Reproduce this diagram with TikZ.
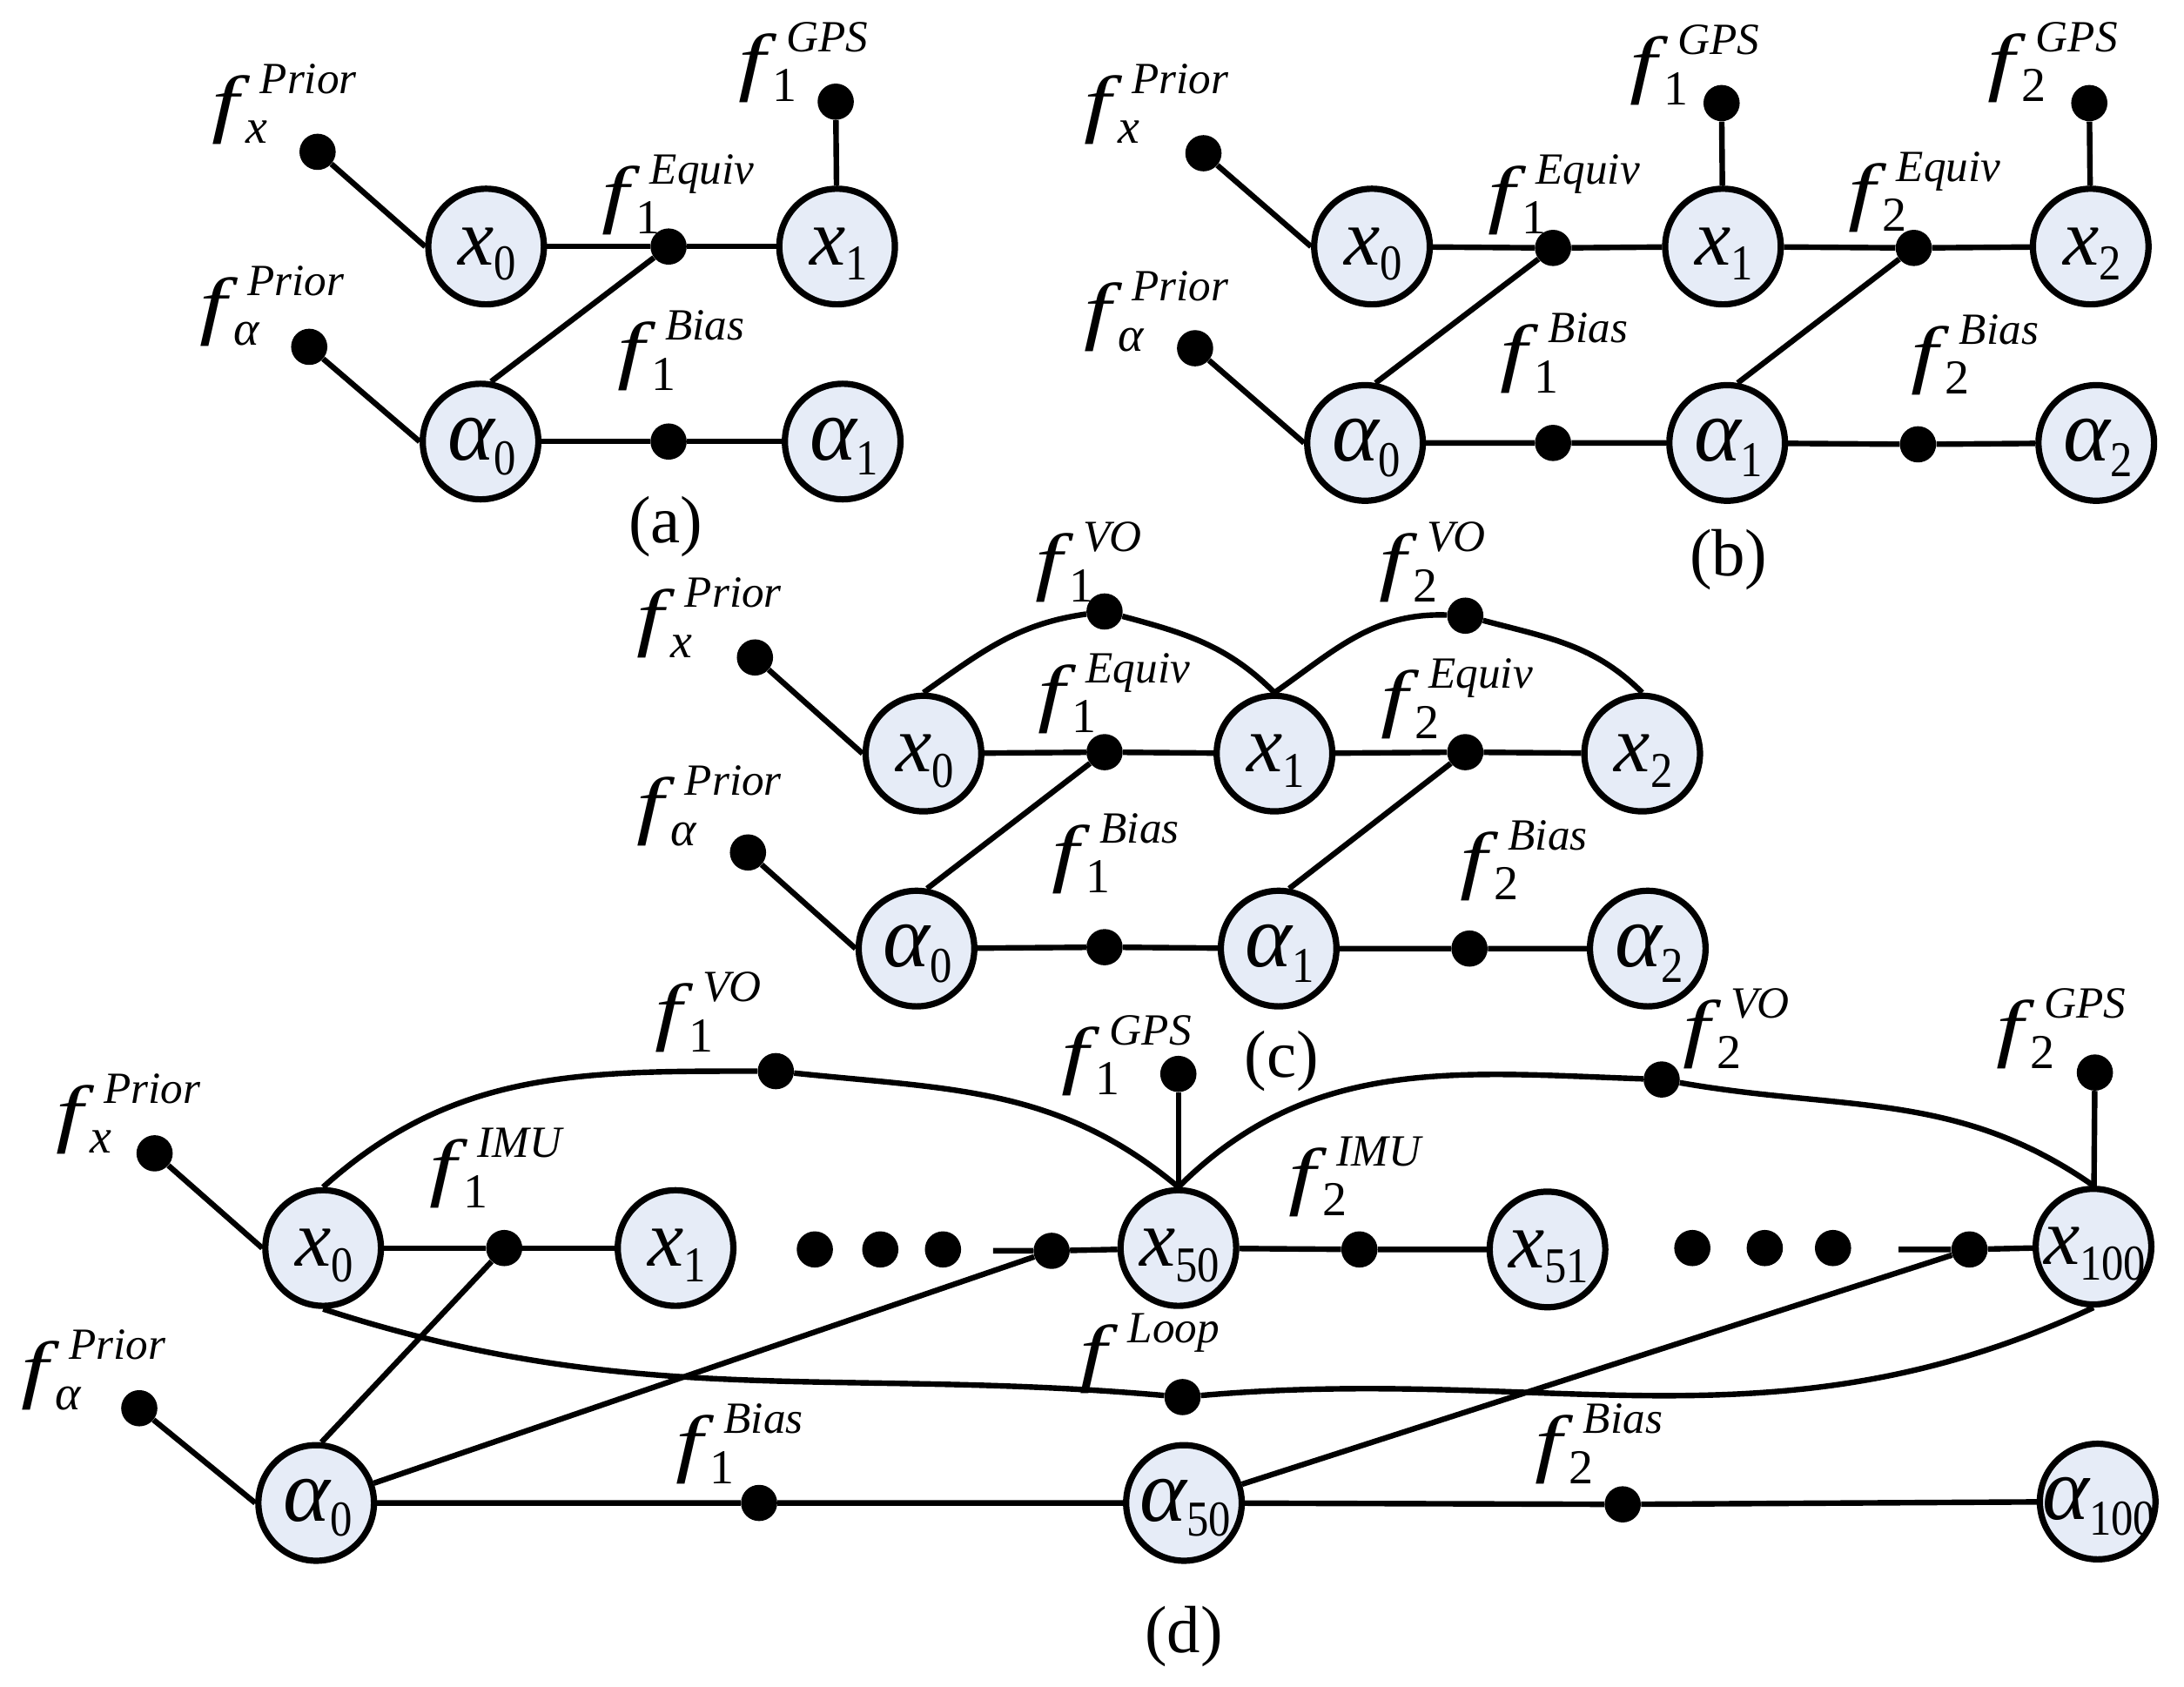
\documentclass[tikz,border=0pt]{standalone}
\usepackage{graphicx}
\usepackage{fontspec}
\setmainfont{Liberation Serif}
\usetikzlibrary{positioning}
\definecolor{varblue}{HTML}{E6ECF7}
\newcommand{\ffont}{\fontsize{54}{54}\selectfont\itshape}
\newcommand{\supfont}{\fontsize{32}{32}\selectfont\itshape}
\newcommand{\subfont}{\fontsize{35}{35}\selectfont}
\newcommand{\flab}[2]{\scalebox{1.3}[1]{\ffont f}\rlap{\kern15pt\raisebox{25pt}{\supfont #1}}\kern5pt\raisebox{-11pt}{\subfont #2}}
\newcommand{\vsub}[1]{\raisebox{-11pt}{\scalebox{0.88}[1]{\fontsize{36}{36}\selectfont #1}}}
\newcommand{\vlab}[2]{\raisebox{-13pt}[0pt][0pt]{\makebox[0pt]{\kern2pt{\fontsize{58}{58}\selectfont\itshape #1}\vsub{#2}}}}
\newcommand{\alab}[2]{\raisebox{-13pt}[0pt][0pt]{\makebox[0pt]{\kern2pt{\fontsize{64}{64}\selectfont\itshape #1}\vsub{#2}}}}
\newcommand{\fx}{\textit{x}}
\newcommand{\fa}{\textit{α}}
\begin{document}
\begin{tikzpicture}[x=1pt, y=-1pt,
                    varnode/.style={circle, draw, line width=4.5pt, fill=varblue, minimum size=83pt, inner sep=0pt},
                    factor/.style={circle, fill=black, minimum size=26pt, inner sep=0pt},
                    flabel/.style={anchor=base west, inner sep=0pt},
                    caption/.style={font=\fontsize{48}{48}\selectfont},
                    link/.style={line width=4pt}]
\useasboundingbox (0,0) rectangle (1568,1211);

% (a)
\node[varnode] (ax0) at (349,177) {\vlab{x}{0}};
\node[varnode] (ax1) at (601,177) {\vlab{x}{1}};
\node[varnode] (aa0) at (345,317) {\alab{α}{0}};
\node[varnode] (aa1) at (605,317) {\alab{α}{1}};
\node[factor] (apx) at (228,109) {};
\node[factor] (apa) at (222,249) {};
\node[factor] (agps) at (600,73) {};
\node[factor] (aeq) at (480,177) {};
\node[factor] (abi) at (480,317) {};
\node[flabel] (alpx) at (152,92) {\flab{Prior}{\fx}};
\node[flabel] (alpa) at (143,237) {\flab{Prior}{\fa}};
\node[flabel] (algps) at (530,62) {\flab{GPS}{1}};
\node[flabel] (aleq) at (432,157) {\flab{Equiv}{1}};
\node[flabel] (albi) at (443,269) {\flab{Bias}{1}};
\node[caption] (acap) at (478,378) {(a)};
\draw[link] (apx) -- (ax0.west);
\draw[link] (apa) -- (aa0.west);
\draw[link] (agps) -- (ax1);
\draw[link] (ax0) -- (aeq) -- (ax1);
\draw[link] (aa0.80) -- (aeq);
\draw[link] (aa0) -- (abi) -- (aa1);

% (b)
\node[varnode] (bx0) at (985,177) {\vlab{x}{0}};
\node[varnode] (bx1) at (1237,177) {\vlab{x}{1}};
\node[varnode] (bx2) at (1501,177) {\vlab{x}{2}};
\node[varnode] (ba0) at (980,318) {\alab{α}{0}};
\node[varnode] (ba1) at (1240,318) {\alab{α}{1}};
\node[varnode] (ba2) at (1505,318) {\alab{α}{2}};
\node[factor] (bpx) at (864,110) {};
\node[factor] (bpa) at (858,250) {};
\node[factor] (bgps1) at (1236,74) {};
\node[factor] (bgps2) at (1500,74) {};
\node[factor] (beq1) at (1115,178) {};
\node[factor] (beq2) at (1374,178) {};
\node[factor] (bbi1) at (1115,318) {};
\node[factor] (bbi2) at (1377,319) {};
\node[flabel] (blpx) at (778,92) {\flab{Prior}{\fx}};
\node[flabel] (blpa) at (778,241) {\flab{Prior}{\fa}};
\node[flabel] (blgps1) at (1170,64) {\flab{GPS}{1}};
\node[flabel] (blgps2) at (1427,62) {\flab{GPS}{2}};
\node[flabel] (bleq1) at (1068,157) {\flab{Equiv}{1}};
\node[flabel] (bleq2) at (1327,155) {\flab{Equiv}{2}};
\node[flabel] (blbi1) at (1077,271) {\flab{Bias}{1}};
\node[flabel] (blbi2) at (1372,272) {\flab{Bias}{2}};
\node[caption] (bcap) at (1241,402) {(b)};
\draw[link] (bpx) -- (bx0.west);
\draw[link] (bpa) -- (ba0.west);
\draw[link] (bgps1) -- (bx1);
\draw[link] (bgps2) -- (bx2);
\draw[link] (bx0) -- (beq1) -- (bx1) -- (beq2) -- (bx2);
\draw[link] (ba0.80) -- (beq1);
\draw[link] (ba1.80) -- (beq2);
\draw[link] (ba0) -- (bbi1) -- (ba1) -- (bbi2) -- (ba2);

% (c)
\node[varnode] (cx0) at (663,541) {\vlab{x}{0}};
\node[varnode] (cx1) at (915,541) {\vlab{x}{1}};
\node[varnode] (cx2) at (1179,541) {\vlab{x}{2}};
\node[varnode] (ca0) at (658,681) {\alab{α}{0}};
\node[varnode] (ca1) at (918,681) {\alab{α}{1}};
\node[varnode] (ca2) at (1183,681) {\alab{α}{2}};
\node[factor] (cpx) at (542,472) {};
\node[factor] (cpa) at (537,612) {};
\node[factor] (cvo1) at (793,439) {};
\node[factor] (cvo2) at (1052,442) {};
\node[factor] (ceq1) at (793,540) {};
\node[factor] (ceq2) at (1052,540) {};
\node[factor] (cbi1) at (793,680) {};
\node[factor] (cbi2) at (1055,681) {};
\node[flabel] (clpx) at (457,461) {\flab{Prior}{\fx}};
\node[flabel] (clpa) at (457,596) {\flab{Prior}{\fa}};
\node[flabel] (clvo1) at (743,421) {\flab{VO}{1}};
\node[flabel] (clvo2) at (990,421) {\flab{VO}{2}};
\node[flabel] (cleq1) at (745,515) {\flab{Equiv}{1}};
\node[flabel] (cleq2) at (991,519) {\flab{Equiv}{2}};
\node[flabel] (clbi1) at (755,630) {\flab{Bias}{1}};
\node[flabel] (clbi2) at (1048,635) {\flab{Bias}{2}};
\node[caption] (ccap) at (920,762) {(c)};
\draw[link] (cpx) -- (cx0.west);
\draw[link] (cpa) -- (ca0.west);
\draw[link] (cx0.north) to[out=35, in=188] (cvo1);
\draw[link] (cvo1) to[out=-15, in=135] (cx1.north);
\draw[link] (cx1.north) to[out=35, in=178] (cvo2);
\draw[link] (cvo2) to[out=-15, in=135] (cx2.north);
\draw[link] (cx0) -- (ceq1) -- (cx1) -- (ceq2) -- (cx2);
\draw[link] (ca0.80) -- (ceq1);
\draw[link] (ca1.80) -- (ceq2);
\draw[link] (ca0) -- (cbi1) -- (ca1) -- (cbi2) -- (ca2);

% (d)
\node[varnode] (dx0) at (232,896) {\vlab{x}{0}};
\node[varnode] (dx1) at (485,896) {\vlab{x}{1}};
\node[varnode] (dx50) at (846,896) {\vlab{x}{50}};
\node[varnode] (dx51) at (1111,897) {\vlab{x}{51}};
\node[varnode] (dx100) at (1503,895) {\vlab{x}{100}};
\node[varnode] (da0) at (227,1079) {\alab{α}{0}};
\node[varnode] (da50) at (850,1079) {\alab{α}{50}};
\node[varnode] (da100) at (1506,1078) {\alab{α}{100}};
\node[factor] (dpx) at (111,828) {};
\node[factor] (dpa) at (100,1011) {};
\node[factor] (dimu1) at (362,896) {};
\node[factor] (dgap1) at (755,898) {};
\node[factor] (dimu2) at (976,897) {};
\node[factor] (dgap2) at (1414,897) {};
\node[factor] (dvo1) at (557,769) {};
\node[factor] (dvo2) at (1193,775) {};
\node[factor] (dgps1) at (846,771) {};
\node[factor] (dgps2) at (1504,770) {};
\node[factor] (dloop) at (849,1003) {};
\node[factor] (dbi1) at (545,1079) {};
\node[factor] (dbi2) at (1165,1080) {};
\node[factor] (de1) at (585,897) {};
\node[factor] (de2) at (632,897) {};
\node[factor] (de3) at (677,897) {};
\node[factor] (de4) at (1215,896) {};
\node[factor] (de5) at (1267,896) {};
\node[factor] (de6) at (1316,896) {};
\coordinate (dstub1) at (713,898);
\coordinate (dstub2) at (1363,897);
\node[flabel] (dlpx) at (40,817) {\flab{Prior}{\fx}};
\node[flabel] (dlpa) at (15,1001) {\flab{Prior}{\fa}};
\node[flabel] (dlimu1) at (308,856) {\flab{IMU}{1}};
\node[flabel] (dlvo1) at (470,744) {\flab{VO}{1}};
\node[flabel] (dlgps1) at (762,775) {\flab{GPS}{1}};
\node[flabel] (dlloop) at (775,989) {\flab{Loop}{}};
\node[flabel] (dlimu2) at (925,862) {\flab{IMU}{2}};
\node[flabel] (dlvo2) at (1208,756) {\flab{VO}{2}};
\node[flabel] (dlgps2) at (1433,756) {\flab{GPS}{2}};
\node[flabel] (dlbi1) at (485,1054) {\flab{Bias}{1}};
\node[flabel] (dlbi2) at (1102,1054) {\flab{Bias}{2}};
\node[caption] (dcap) at (850,1175) {(d)};
\draw[link] (dpx) -- (dx0.west);
\draw[link] (dpa) -- (da0.west);
\draw[link] (dgps1) -- (dx50);
\draw[link] (dgps2) -- (dx100);
\draw[link] (dx0) -- (dimu1) -- (dx1);
\draw[link] (dstub1) -- (dgap1) -- (dx50);
\draw[link] (dx50) -- (dimu2) -- (dx51);
\draw[link] (dstub2) -- (dgap2) -- (dx100);
\draw[link] (da0.85) -- (dimu1);
\draw[link] (da0) -- (dgap1);
\draw[link] (da50) -- (dgap2);
\draw[link] (da0) -- (dbi1) -- (da50) -- (dbi2) -- (da100);
\draw[link] (dx0.north) to[out=42, in=180] (dvo1);
\draw[link] (dvo1) to[out=-6, in=140] (dx50.north);
\draw[link] (dx50.north) to[out=45, in=178] (dvo2);
\draw[link] (dvo2) to[out=-10, in=145] (dx100.north);
\draw[link] (dx0.south) to[out=-18, in=175] (dloop);
\draw[link] (dloop) to[out=5, in=-155] (dx100.south);
\end{tikzpicture}
\end{document}
